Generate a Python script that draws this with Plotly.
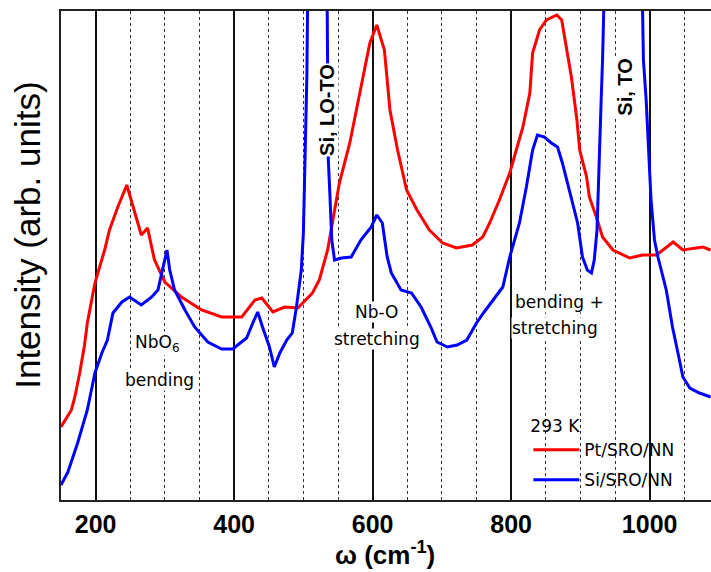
import plotly.graph_objects as go

# Raman spectra (arb. units)
red_x = [150, 165, 170, 177, 184, 188, 199, 213, 220, 232, 245, 256, 266, 275, 285, 300, 324, 353, 382,
         411, 430, 440, 456, 473, 492, 513, 523, 535, 542, 552, 567, 581, 596, 606, 617, 625, 636, 649,
         664, 682, 701, 721, 744, 759, 769, 783, 798, 817, 827, 831, 841, 851, 866, 873, 880, 887, 895,
         899, 909, 913, 923, 932, 947, 971, 990, 1010, 1034, 1048, 1077, 1088]
red_y = [73, 90, 103, 127, 155, 177, 217, 250, 270, 293, 315, 290, 265, 272, 240, 218, 203, 190, 183,
         183, 200, 202, 188, 193, 192, 207, 220, 250, 277, 317, 357, 407, 457, 475, 450, 390, 350, 310,
         290, 270, 257, 252, 255, 263, 277, 300, 327, 373, 407, 447, 470, 480, 485, 480, 450, 423, 380,
         350, 323, 303, 283, 263, 250, 242, 245, 245, 258, 250, 253, 250]

blue_x = [150, 160, 174, 188, 199, 209, 217, 225, 238, 249, 266, 281, 290, 297, 303, 307, 314, 329, 343,
          362, 382, 398, 418, 427, 434, 441, 451, 458, 466, 476, 484, 490, 495, 497, 500, 502, 505, 506,
          512, 520, 530, 534, 535, 536, 538, 541, 545, 555, 569, 583, 598, 606, 614, 621, 627, 641, 656,
          670, 684, 693, 708, 722, 736, 750, 760, 788, 798, 812, 822, 831, 838, 848, 858, 867, 874, 884,
          896, 903, 910, 916, 920, 924, 926, 928, 930, 932, 934, 945, 962, 980, 989, 991, 995, 999, 1002,
          1007, 1012, 1024, 1033, 1043, 1048, 1058, 1072, 1088]
blue_y = [15, 28, 57, 90, 127, 147, 160, 187, 198, 203, 195, 203, 210, 233, 250, 230, 210, 190, 173,
          158, 151, 151, 162, 177, 188, 173, 153, 133, 147, 160, 167, 193, 220, 230, 267, 327, 423, 489,
          900, 1300, 900, 489, 443, 340, 310, 260, 240, 242, 243, 260, 273, 285, 277, 243, 227, 210, 207,
          193, 173, 158, 153, 155, 160, 177, 187, 213, 243, 277, 313, 350, 365, 363, 357, 353, 337, 310,
          277, 243, 230, 227, 240, 270, 320, 370, 400, 440, 489, 900, 1300, 900, 489, 440, 400, 335, 300,
          260, 243, 210, 173, 140, 123, 112, 107, 103]

x_range = [150, 1088.6]
y_range = [0, 489]

# text labels (x in cm^-1, y in arb. units)
label_text = ["NbO<sub>6</sub>", "bending", "Nb-O", "stretching", "bending +", "stretching"]
label_x = [288, 292, 606, 607, 870, 863]
label_y = [157, 120, 188, 161, 198, 172]

peak_text = ["Si, LO-TO", "Si, TO"]
peak_x = [534, 964]
peak_y = [390, 413]

fig = go.Figure()
fig.add_trace(go.Scatter(x=red_x, y=red_y, mode="lines", name="Pt/SRO/NN", legendgroup="a",
                         line=dict(color="#ff0000", width=3)))
fig.add_trace(go.Scatter(x=blue_x, y=blue_y, mode="lines", name="Si/SRO/NN", legendgroup="b",
                         line=dict(color="#0000ff", width=3)))

for t, x, y in zip(label_text, label_x, label_y):
    fig.add_annotation(x=x, y=y, text=t, showarrow=False, bgcolor="white", borderpad=0,
                       font=dict(family="DejaVu Sans", size=17, color="black"))
for t, x, y in zip(peak_text, peak_x, peak_y):
    fig.add_annotation(x=x, y=y, text="<b>" + t + "</b>", showarrow=False, textangle=-90,
                       bgcolor="white", borderpad=0,
                       font=dict(family="Liberation Sans", size=20, color="black"))

# axis titles
fig.add_annotation(xref="paper", yref="paper", x=0.498, y=-0.147, xanchor="center", yanchor="bottom",
                   text="<b>ω (cm<sup>-1</sup>)</b>", showarrow=False,
                   font=dict(family="Liberation Sans", size=26, color="black"))
fig.add_annotation(xref="paper", yref="paper", x=-0.051, y=0.542, xanchor="center", yanchor="middle",
                   text="Intensity (arb. units)", showarrow=False, textangle=-90,
                   font=dict(family="Liberation Sans", size=35, color="black"))

fig.update_layout(
    width=711, height=572,
    margin=dict(l=61, r=0, t=11, b=72),
    plot_bgcolor="white", paper_bgcolor="white",
    showlegend=True,
    legend=dict(x=0.719, y=0.184, xanchor="left", yanchor="top", bgcolor="rgba(0,0,0,0)",
                font=dict(family="DejaVu Sans", size=17, color="black"),
                title=dict(text="293 K", side="top", font=dict(family="DejaVu Sans", size=17)),
                tracegroupgap=5, itemwidth=46),
    xaxis=dict(range=x_range, tick0=0, dtick=200, showgrid=True, gridcolor="#111", gridwidth=1.5,
               minor=dict(dtick=50, tick0=0, showgrid=True, gridcolor="#333", griddash="dot", gridwidth=1.4),
               showline=True, linecolor="#222", linewidth=1.5, mirror=True,
               ticks="outside", ticklen=1, tickcolor="rgba(0,0,0,0)", automargin=False,
               tickfont=dict(family="Liberation Sans", size=25, color="black", weight="bold"),
               zeroline=False),
    yaxis=dict(range=y_range, showgrid=False, showticklabels=False, ticks="", zeroline=False,
               showline=True, linecolor="#222", linewidth=1.5, mirror=True, automargin=False),
)

fig.write_html("out.html", config={"displayModeBar": False},
               post_script="document.body.style.margin='0';")
